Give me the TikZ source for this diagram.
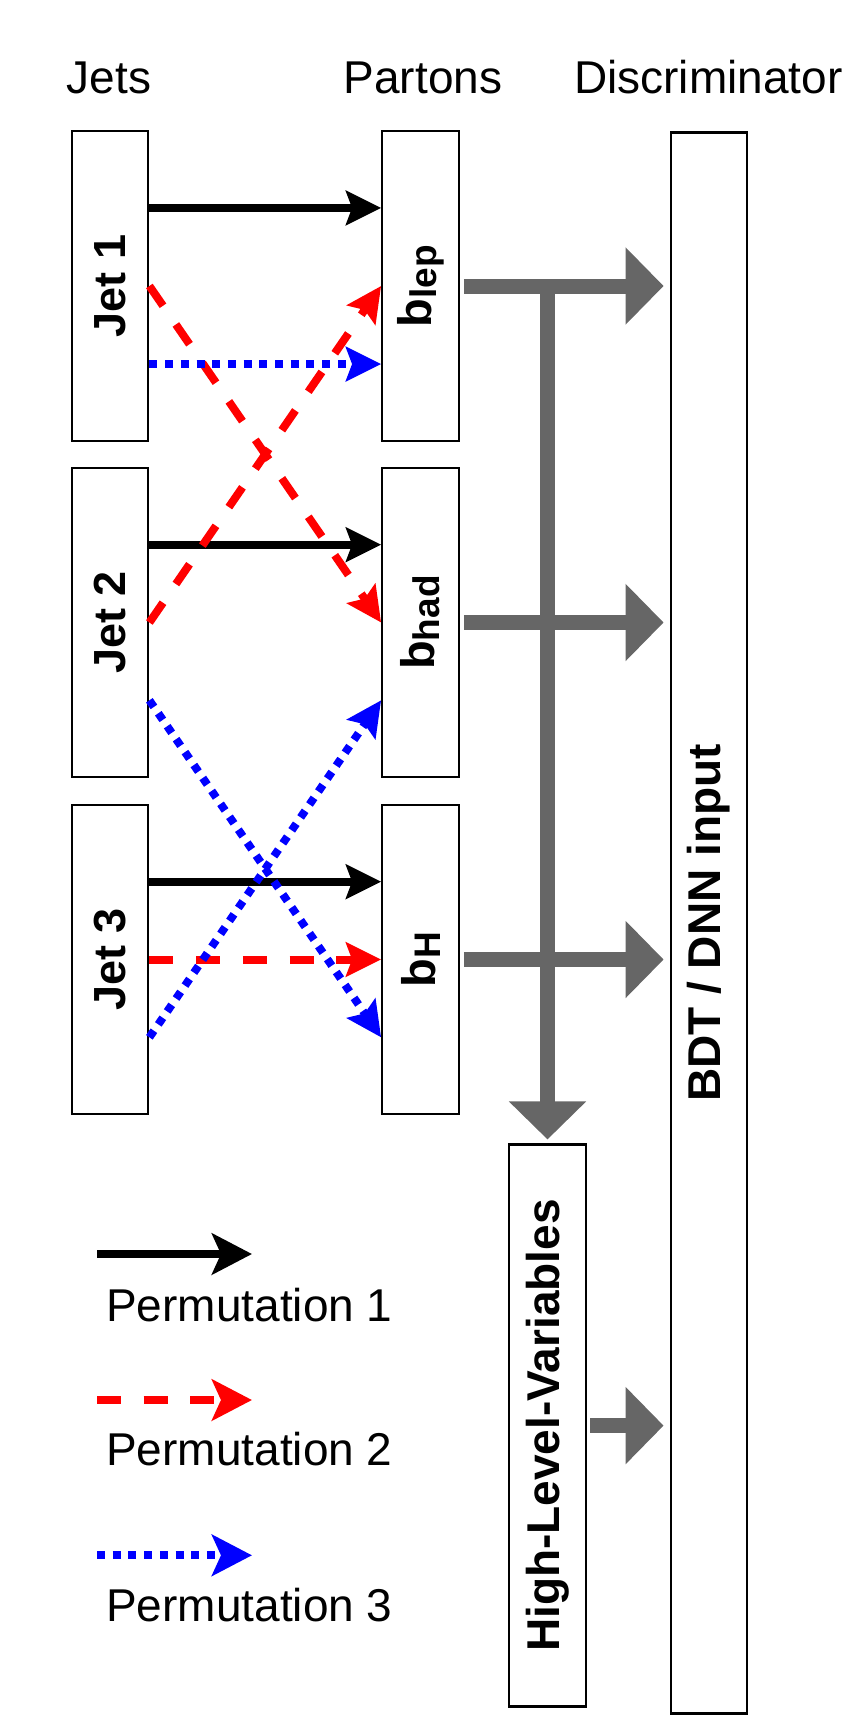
\documentclass[tikz,border=0pt]{standalone}
\usepackage{fontspec}
\usepackage{graphicx}
\setmainfont{Liberation Sans}
\usetikzlibrary{arrows.meta,calc}
\definecolor{flowgray}{HTML}{666666}
\definecolor{pred}{HTML}{FF0000}
\definecolor{pblue}{HTML}{0000FF}
\newcommand\hdrfont{\fontsize{46}{46}\selectfont}
\newcommand\Jfont{\fontsize{45}{45}\selectfont\bfseries}
\newcommand\Pfont{\fontsize{47}{47}\selectfont\bfseries}
\newcommand\Psub[1]{\raisebox{-5pt}{\fontsize{37}{37}\selectfont\bfseries #1}}
\begin{document}
\begin{tikzpicture}[x=1pt,y=-1pt,
  box/.style={draw=black, line width=2.3pt, fill=white, inner sep=0pt, minimum width=76.5pt},
  mainhead/.style={-{Stealth[length=35pt,width=34pt,inset=6pt]}},
  leghead/.style={-{Stealth[length=40pt,width=41pt,inset=9pt]}},
  permA/.style={line width=8pt, black},
  permB/.style={line width=8pt, pred, dash pattern=on 24pt off 22.7pt},
  permC/.style={line width=8pt, pblue, dash pattern=on 8pt off 7.7pt},
  feed/.style={line width=15pt, flowgray, -{Triangle[length=38pt,width=75pt]}},
  hdr/.style={inner sep=0pt, font=\hdrfont}
]
\useasboundingbox (0,0) rectangle (847,1720);

% headers
\node[hdr, anchor=base] (hJets) at (109,93.3) {Jets};
\node[hdr, anchor=base] (hPartons) at (423,93.3) {Partons};
\node[hdr, anchor=base west] (hDisc) at (574,93.3) {Discriminator};

% jet boxes
\node[box, minimum height=310pt] (j1) at (110,286) {\rotatebox{90}{\Jfont Jet 1}};
\node[box, minimum height=309pt] (j2) at (110,622.5) {\rotatebox{90}{\Jfont Jet 2}};
\node[box, minimum height=309pt] (j3) at (110,959.5) {\rotatebox{90}{\Jfont Jet 3}};

% parton boxes
\node[box, minimum height=310pt] (p1) at (420.5,286) {\rotatebox{90}{\Pfont b\Psub{lep}}};
\node[box, minimum height=309pt] (p2) at (420.5,622.5) {\rotatebox{90}{\Pfont b\Psub{had}}};
\node[box, minimum height=309pt] (p3) at (420.5,959.5) {\rotatebox{90}{\Pfont b\Psub{H}}};

% discriminator and high-level variables
\node[box, minimum height=1581pt] (disc) at (709,923) {\rotatebox{90}{\fontsize{46}{46}\selectfont\bfseries BDT / DNN input}};
\node[box, minimum height=562pt] (hlv) at (547.5,1425.6) {\rotatebox{90}{\fontsize{46}{46}\selectfont\bfseries High-Level-Variables}};

% permutation 1 (black)
\draw[permA, mainhead] ($(j1.north east)!0.25!(j1.south east)$) -- ($(p1.north west)!0.25!(p1.south west)$);
\draw[permA, mainhead] ($(j2.north east)!0.25!(j2.south east)$) -- ($(p2.north west)!0.25!(p2.south west)$);
\draw[permA, mainhead] ($(j3.north east)!0.25!(j3.south east)$) -- ($(p3.north west)!0.25!(p3.south west)$);

% permutation 2 (red)
\draw[permB, mainhead] (j1.east) -- (p2.west);
\draw[permB, mainhead] (j2.east) -- (p1.west);
\draw[permB, mainhead] (j3.east) -- (p3.west);

% permutation 3 (blue)
\draw[permC, mainhead] ($(j1.north east)!0.75!(j1.south east)$) -- ($(p1.north west)!0.75!(p1.south west)$);
\draw[permC, mainhead] ($(j2.north east)!0.75!(j2.south east)$) -- ($(p3.north west)!0.75!(p3.south west)$);
\draw[permC, mainhead] ($(j3.north east)!0.75!(j3.south east)$) -- ($(p2.north west)!0.75!(p2.south west)$);

% gray flow arrows
\draw[feed, shorten >=4pt] (p1.east -| hlv.north) -- (hlv.north);
\draw[feed, shorten <=4pt, shorten >=6pt] (p1.east) -- (p1.east -| disc.west);
\draw[feed, shorten <=4pt, shorten >=6pt] (p2.east) -- (p2.east -| disc.west);
\draw[feed, shorten <=4pt, shorten >=6pt] (p3.east) -- (p3.east -| disc.west);
\draw[feed, shorten <=3.5pt, shorten >=6pt] (hlv.east) -- (hlv.east -| disc.west);

% legend
\coordinate (l1a) at (97,1254);   \coordinate (l1b) at (252,1254);
\coordinate (l2a) at (97,1400);   \coordinate (l2b) at (252,1400);
\coordinate (l3a) at (97,1555.3); \coordinate (l3b) at (252,1555.3);
\draw[permA, leghead] (l1a) -- (l1b);
\draw[permB, leghead] (l2a) -- (l2b);
\draw[permC, leghead] (l3a) -- (l3b);
\node[hdr, anchor=base west] (t1) at (106,1321) {Permutation 1};
\node[hdr, anchor=base west] (t2) at (106,1465.6) {Permutation 2};
\node[hdr, anchor=base west] (t3) at (106,1621.7) {Permutation 3};
\end{tikzpicture}
\end{document}
